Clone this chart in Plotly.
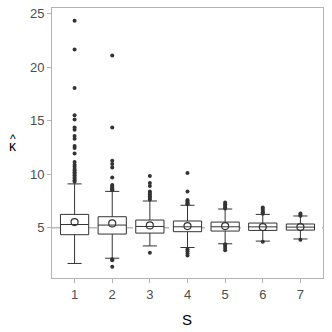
import plotly.graph_objects as go

# group labels
groups = [1, 2, 3, 4, 5, 6, 7]

# box statistics
q1 = [4.35, 4.41, 4.50, 4.63, 4.69, 4.75, 4.78]
median = [5.30, 5.25, 5.12, 5.09, 5.09, 5.08, 5.06]
q3 = [6.25, 6.03, 5.72, 5.63, 5.53, 5.44, 5.35]
lower_whisker = [1.66, 2.15, 3.30, 3.15, 3.50, 3.75, 3.95]
upper_whisker = [9.10, 8.40, 7.50, 7.10, 6.75, 6.25, 6.10]
means = [5.53, 5.40, 5.22, 5.16, 5.16, 5.06, 5.06]

# outliers per group
outliers = {
    1: [24.35, 21.66, 18.06, 15.53, 15.12, 14.37, 14.16, 13.57, 13.32, 12.64, 12.45,
        11.94, 11.14, 10.9, 10.7, 10.5, 10.35, 10.2, 10.05, 9.9, 9.75, 9.6, 9.45, 9.3],
    2: [21.1, 14.37, 11.26, 10.95, 10.64, 9.7, 9.0, 8.9, 8.8, 8.7, 8.6, 8.5, 2.05, 1.95, 1.36],
    3: [9.83, 9.18, 8.9, 8.4, 8.25, 8.1, 7.95, 7.8, 7.65, 2.65],
    4: [10.11, 8.39, 7.6, 7.5, 7.4, 7.3, 7.2, 3.0, 2.8, 2.6, 2.4],
    5: [7.36, 7.2, 7.05, 6.9, 6.8, 3.45, 3.3, 3.1, 2.9],
    6: [6.9, 6.75, 6.6, 6.45, 6.32, 3.69],
    7: [6.34, 6.2, 6.12, 3.88],
}

ref_value = 5
y_ticks = [5, 10, 15, 20, 25]

dark = '#333333'
frame = '#b3b3b3'

fig = go.Figure()

fig.add_trace(go.Box(x = groups,
                     q1 = q1, median = median, q3 = q3,
                     lowerfence = lower_whisker, upperfence = upper_whisker,
                     width = 0.75,
                     fillcolor = 'white',
                     line = dict(color = dark, width = 1),
                     boxpoints = False,
                     showlegend = False,
                     hoverinfo = 'skip'))

out_x = [g for g in groups for v in outliers[g]]
out_y = [v for g in groups for v in outliers[g]]

fig.add_trace(go.Scatter(x = out_x, y = out_y, mode = 'markers',
                         marker = dict(color = dark, size = 4),
                         showlegend = False))

fig.add_trace(go.Scatter(x = groups, y = means, mode = 'markers',
                         marker = dict(symbol = 'circle-open', color = dark, size = 7,
                                       line = dict(width = 1.2)),
                         showlegend = False))

fig.add_hline(y = ref_value, line = dict(color = '#b8b8b8', dash = 'dash', width = 1.5),
              layer = 'below')

fig.update_layout(width = 332, height = 332,
                  margin = dict(l = 52, r = 9, t = 8, b = 54),
                  plot_bgcolor = 'white',
                  paper_bgcolor = 'white',
                  font = dict(family = 'Liberation Sans, Arial', size = 13, color = '#4d4d4d'),
                  xaxis = dict(range = [0.4, 7.6], tickvals = groups, automargin = False,
                               showline = True, mirror = True, linecolor = frame, linewidth = 1,
                               ticks = 'outside', ticklen = 4, tickcolor = frame,
                               showgrid = False, zeroline = False),
                  yaxis = dict(range = [0.3, 25.55], tickvals = y_ticks, automargin = False,
                               showline = True, mirror = True, linecolor = frame, linewidth = 1,
                               ticks = 'outside', ticklen = 4, tickcolor = frame,
                               showgrid = False, zeroline = False),
                  annotations = [dict(text = 'S', x = 0.498, y = -0.152, xref = 'paper', yref = 'paper',
                                      xanchor = 'center', yanchor = 'middle', showarrow = False,
                                      font = dict(size = 15, color = 'black')),
                                 dict(text = '^', x = -0.144, y = 0.48, xref = 'paper', yref = 'paper',
                                      xanchor = 'center', yanchor = 'bottom', showarrow = False,
                                      font = dict(size = 12, color = 'black')),
                                 dict(text = 'κ', x = -0.144, y = 0.527, xref = 'paper', yref = 'paper',
                                      xanchor = 'center', yanchor = 'top', showarrow = False,
                                      font = dict(size = 14, color = 'black'))])

# drop the default 8px page margin so the figure sits at the window corner
fig.write_html("out.html", config = dict(displayModeBar = False),
               post_script = "document.body.style.margin = '0';")
